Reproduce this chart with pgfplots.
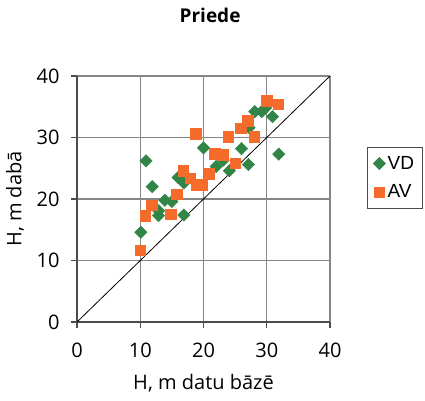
\documentclass[border=0pt]{standalone}
\usepackage{pgfplots}
\pgfplotsset{compat=1.18}
\usepackage{fontspec}
\setmainfont{Open Sans}
\newfontfamily\legfont{Liberation Sans}
\definecolor{vdgreen}{RGB}{49,133,71}
\definecolor{avorange}{RGB}{244,107,43}
\definecolor{gridgray}{RGB}{134,134,134}
\begin{document}
\begin{tikzpicture}[x=1pt,y=1pt]
\path[use as bounding box] (0,0) rectangle (425,400);
\begin{axis}[
  at={(77pt,78pt)}, anchor=south west, scale only axis,
  width=253pt, height=246pt,
  xmin=0, xmax=40, ymin=0, ymax=40,
  xtick={0,10,...,40}, ytick={0,10,...,40},
  axis x line=bottom, axis y line=left,
  axis line style={-, draw=black!70, line width=1.2pt},
  grid=major, grid style={gridgray, line width=1.2pt},
  tick align=outside, major tick length=6pt,
  tick style={black!70, line width=1.2pt},
  /pgf/number format/assume math mode=true,
  tick label style={font=\fontsize{20}{24}\selectfont},
  xticklabel style={yshift=-11pt},
  yticklabel style={xshift=-8pt},
  xlabel={H, m datu bāzē}, ylabel={H, m dabā},
  label style={font=\fontsize{20}{24}\selectfont},
  xlabel style={at={(axis description cs:0.5,0)}, anchor=center, yshift=-61pt},
  ylabel style={at={(axis description cs:0,0.5)}, anchor=center, yshift=62pt},
  title={\bfseries Priede},
  title style={at={(axis description cs:0.526,1)}, anchor=center, yshift=55pt, font=\fontsize{19}{23}\selectfont},
  legend style={at={(axis description cs:1.146,0.711)}, anchor=north west,
    draw=black!70, font=\legfont\fontsize{19}{22}\selectfont,
    row sep=10pt, inner xsep=6pt, inner ysep=7pt},
  legend cell align=left,
]
\addplot[black, line width=0.8pt, forget plot] coordinates {(0,0) (40,40)};
\addplot[only marks, mark=square*, mark size=4.4pt,
  mark options={fill=vdgreen, draw=vdgreen, rotate=45}] table {
x y
10.9 26.2
20.0 28.3
16.0 23.5
16.9 22.6
11.9 22.0
13.9 19.8
15.0 19.6
12.9 18.1
12.9 17.3
16.9 17.4
10.1 14.6
28.1 34.2
29.2 34.2
29.8 34.8
30.9 33.4
27.2 31.6
26.0 28.2
31.9 27.3
23.1 26.3
22.0 25.3
27.1 25.6
24.1 24.6
};
\addlegendentry{VD}
\addplot[only marks, mark=square*, mark size=5.3pt,
  mark options={fill=avorange, draw=avorange}] table {
x y
18.8 30.6
16.8 24.6
17.9 23.4
18.9 22.3
19.8 22.3
20.9 24.1
15.8 20.8
11.8 19.0
10.8 17.3
14.8 17.5
10.0 11.7
30.0 36.0
31.8 35.4
27.0 32.7
25.9 31.5
23.9 30.1
28.0 30.1
21.8 27.4
23.0 27.2
25.0 25.8
};
\addlegendentry{AV}
\end{axis}
\end{tikzpicture}
\end{document}
